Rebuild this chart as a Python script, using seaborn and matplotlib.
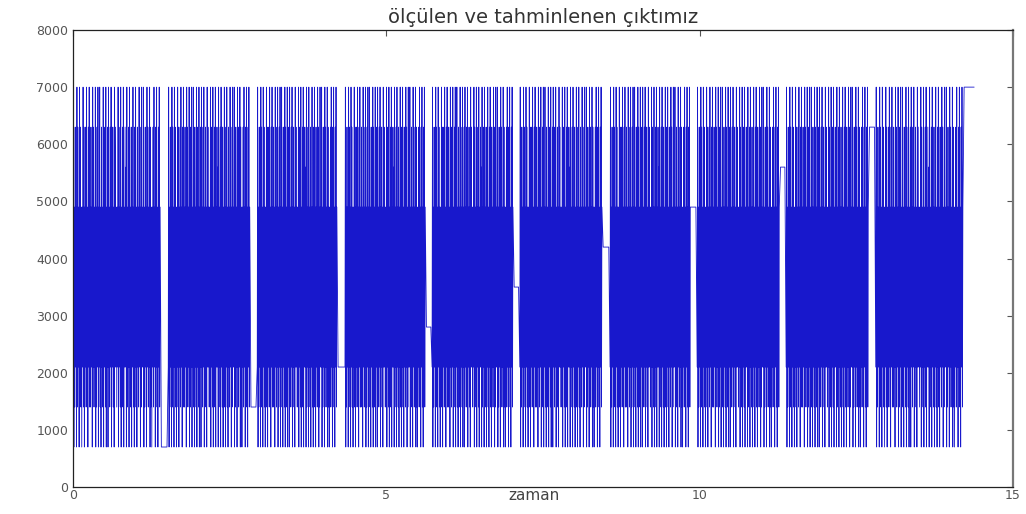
import numpy as np
import pandas as pd
import matplotlib
matplotlib.use("Agg")
import matplotlib.pyplot as plt
import seaborn as sns

# Output levels of the excitation (one digit of the pattern = one level index)
levels = [700, 1400, 2100, 2800, 3500, 4200, 4900, 5600, 6300, 7000]

# Level-index sequence applied inside every measurement block
block_pattern = ("29061826091826092816"
                 "06291806281926082916"
                 "18260928162906182906"
                 "29160826190826190628"
                 "09261829062816092826"
                 "16290826190628190628"
                 "27091628092618062916"
                 "08291608261928061926"
                 "29061826092816290816"
                 "06281926082916082916")

# Block timing (seconds) and the value held between blocks
block_start = [0.00, 1.52, 2.94, 4.34, 5.73, 7.13, 8.57, 9.96, 11.38, 12.81]
block_end = [1.39, 2.82, 4.21, 5.62, 7.02, 8.44, 9.85, 11.27, 12.69, 14.20]
hold_level = [700, 1400, 2100, 2800, 3500, 4200, 4900, 5600, 6300, 7000]
hold_end = [1.50, 2.92, 4.32, 5.71, 7.11, 8.55, 9.94, 11.36, 12.79, 14.38]

# Assemble the time series
t_parts, y_parts = [], []
for s, e, h, he in zip(block_start, block_end, hold_level, hold_end):
    ts = np.linspace(s, e, len(block_pattern))
    ys = [levels[int(c)] for c in block_pattern]
    t_parts.extend(ts.tolist() + [e + 0.02, he])
    y_parts.extend(ys + [h, h])

df = pd.DataFrame({"zaman": t_parts, "cikti": y_parts})

sns.set_style("white")
plt.rcParams["font.family"] = ["DejaVu Sans"]

fig = plt.figure(figsize=(10.26, 5.14), dpi=100)
ax = fig.add_axes([73 / 1026, 1 - 487 / 514, (1013 - 73) / 1026, (487 - 30) / 514])

sns.lineplot(data=df, x="zaman", y="cikti", estimator=None, sort=False,
             color="#1818cc", linewidth=0.6, ax=ax, legend=False)

ax.set_xlim(0, 15)
ax.set_ylim(0, 8000)
ax.set_xticks([0, 5, 10, 15])
ax.set_yticks(list(range(0, 8001, 1000)))
ax.tick_params(direction="in", top=True, right=True, length=4, width=0.8,
               color="#555555", labelsize=9, labelcolor="#555555")
ax.tick_params(axis="x", pad=1.5)
ax.tick_params(axis="y", pad=3.5)

for side in ["left", "bottom", "top"]:
    ax.spines[side].set_color("#222222")
    ax.spines[side].set_linewidth(0.9)
ax.spines["right"].set_color("#777777")
ax.spines["right"].set_linewidth(1.6)

ax.set_title("ölçülen ve tahminlenen çıktımız", fontsize=14, color="#333333", pad=5)
ax.set_xlabel("zaman", fontsize=11, color="#444444")
ax.xaxis.set_label_coords(0.49, -0.002)
ax.set_ylabel("")

fig.savefig("out.png", dpi=100, facecolor="white")
